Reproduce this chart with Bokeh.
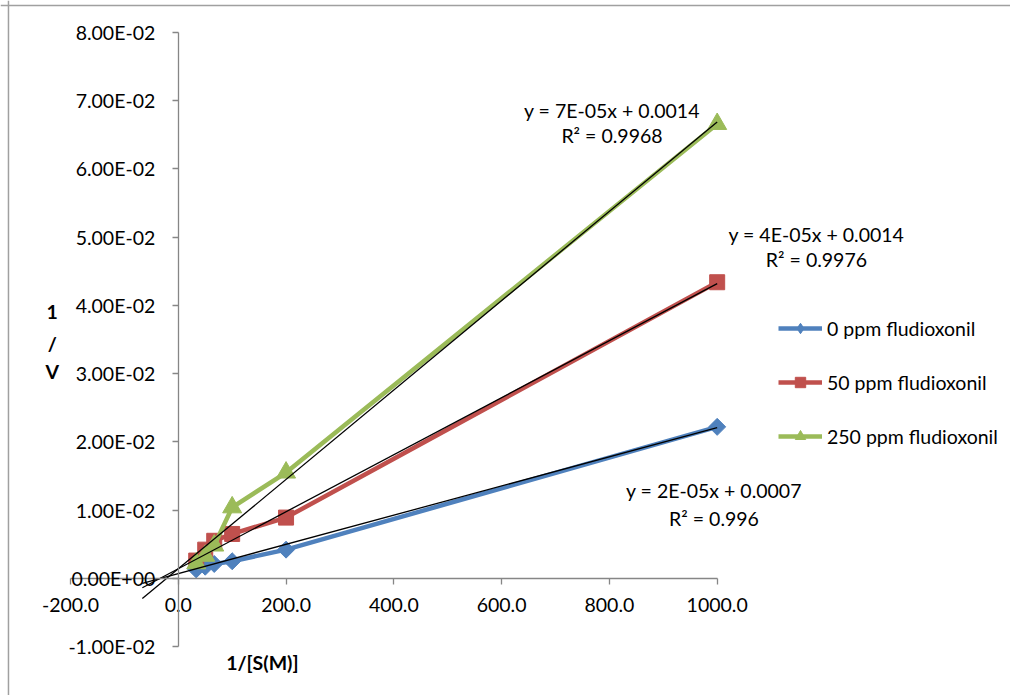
import math
from bokeh.plotting import figure
from bokeh.models import (Range1d, LinearAxis, FixedTicker, CustomJSTickFormatter,
                          Label, Legend, LegendItem, Span)
from bokeh.embed import file_html
from bokeh.resources import INLINE

# ---------------- data ----------------
inv_s = [33.3, 50.0, 66.7, 100.0, 200.0, 1000.0]
inv_v_0ppm = [0.0013, 0.0017, 0.0021, 0.0025, 0.0042, 0.0222]
inv_v_50ppm = [0.0026, 0.0042, 0.0055, 0.0065, 0.0089, 0.0434]
inv_v_250ppm = [0.0022, 0.0033, 0.0048, 0.0104, 0.0155, 0.0666]

series_names = ["0 ppm fludioxonil", "50 ppm fludioxonil", "250 ppm fludioxonil"]

# trendlines as drawn (slope, intercept), extended backward to x = -66.7
trend_slopes = [2.14e-05, 4.18e-05, 6.55e-05]
trend_intercepts = [0.0007, 0.0014, 0.0014]
trend_x = [-66.7, 1000.0]
trend_eq_texts = ["y = 2E-05x + 0.0007", "y = 4E-05x + 0.0014", "y = 7E-05x + 0.0014"]
trend_r2_texts = ["R\u00b2 = 0.996", "R\u00b2 = 0.9976", "R\u00b2 = 0.9968"]

x_ticks = [-200, 0, 200, 400, 600, 800, 1000]
y_ticks = [-0.01, 0.0, 0.01, 0.02, 0.03, 0.04, 0.05, 0.06, 0.07, 0.08]

# ---------------- style ----------------
FONT = "Lato"
TXT = "#000000"
AXC = "#868686"
FS = "19.5px"
colors = ["#4F81BD", "#C0504D", "#9BBB59"]
markers = ["square", "square", "triangle"]
legend_markers = ["diamond", "square", "triangle"]
mangles = [math.pi / 4, 0.0, 0.0]
msizes = [12, 15, 19]

X0, X1 = -329.9, 1544.3
Y0, Y1 = -0.01718, 0.08470
BORDER_X, BORDER_Y = -315.1, 0.08397

p = figure(width=1010, height=695, x_range=Range1d(X0, X1), y_range=Range1d(Y0, Y1),
           toolbar_location=None, output_backend="svg", min_border=0,
           x_axis_location=None, y_axis_location=None)
p.grid.visible = False
p.outline_line_color = None
p.background_fill_color = "white"
p.border_fill_color = "white"

# chart border (left / top)
p.add_layout(Span(location=BORDER_X, dimension="height", line_color="#a0a0a0", line_width=1.5))
p.add_layout(Span(location=BORDER_Y, dimension="width", line_color="#a0a0a0", line_width=1.5))

fmt_x = CustomJSTickFormatter(code="return tick.toFixed(1);")
fmt_y = CustomJSTickFormatter(code="""
var s = tick.toExponential(2); var parts = s.split('e');
var e = parseInt(parts[1]); var a = Math.abs(e);
return parts[0] + 'E' + (e < 0 ? '-' : '+') + (a < 10 ? '0' : '') + a;
""")

xaxis = LinearAxis(fixed_location=0, ticker=FixedTicker(ticks=x_ticks), formatter=fmt_x,
                   bounds=(-200, 1000))
yaxis = LinearAxis(fixed_location=0, ticker=FixedTicker(ticks=y_ticks), formatter=fmt_y,
                   bounds=(-0.01, 0.08))
for ax in (xaxis, yaxis):
    ax.axis_line_color = AXC
    ax.axis_line_width = 1.3
    ax.major_tick_line_color = AXC
    ax.major_tick_line_width = 1.3
    ax.major_tick_in = 0
    ax.major_tick_out = 6
    ax.minor_tick_line_color = None
    ax.major_label_text_font = FONT
    ax.major_label_text_font_size = FS
    ax.major_label_text_color = TXT
xaxis.major_label_standoff = 14
yaxis.major_label_standoff = 17
p.add_layout(xaxis, "below")
p.add_layout(yaxis, "left")

series = [inv_v_0ppm, inv_v_50ppm, inv_v_250ppm]
items = []
for i, ys in enumerate(series):
    ln = p.line(inv_s, ys, line_color=colors[i], line_width=4.5)
    p.scatter(inv_s, ys, marker=markers[i], size=msizes[i], angle=mangles[i],
              fill_color=colors[i], line_color=colors[i])
    # legend swatch marker (same data, not drawn in the plot area)
    lg = p.scatter(inv_s, ys, marker=legend_markers[i], size=msizes[i],
                   fill_color=colors[i], line_color=colors[i], visible=False)
    items.append(LegendItem(label=series_names[i], renderers=[ln, lg]))

# trendlines
for i in range(3):
    ty = [trend_intercepts[i] + trend_slopes[i] * x for x in trend_x]
    p.line(trend_x, ty, line_color="black", line_width=1.3)

legend = Legend(items=items, location=(778, 246), padding=0, margin=0, spacing=28,
                glyph_width=44, glyph_height=26, label_height=26, label_standoff=5,
                label_text_font=FONT, label_text_font_size=FS, label_text_color=TXT,
                background_fill_alpha=0, border_line_color=None, click_policy="none")
p.add_layout(legend)

# trendline equations
eq_pos = [(994.1, 0.01287, 0.00877), (1184.2, 0.05040, 0.04673),
          (804.8, 0.06857, 0.06488)]
for i, (ex, ey, ry) in enumerate(eq_pos):
    for txt, yy in ((trend_eq_texts[i], ey), (trend_r2_texts[i], ry)):
        p.add_layout(Label(x=ex, y=yy, text=txt, text_align="center", text_baseline="middle",
                           text_font=FONT, text_font_size=FS, text_color=TXT))

# axis titles
p.add_layout(Label(x=156, y=-0.01234, text="1/[S(M)]", text_align="center",
                   text_baseline="middle", text_font=FONT, text_font_size=FS,
                   text_font_style="bold", text_color=TXT))
for t, yy in (("1", 0.03901), ("/", 0.03442), ("V", 0.03036)):
    p.add_layout(Label(x=-234, y=yy, text=t, text_align="center", text_baseline="middle",
                       text_font=FONT, text_font_size=FS, text_font_style="bold",
                       text_color=TXT))

open("out.html", "w").write(file_html(p, INLINE))
